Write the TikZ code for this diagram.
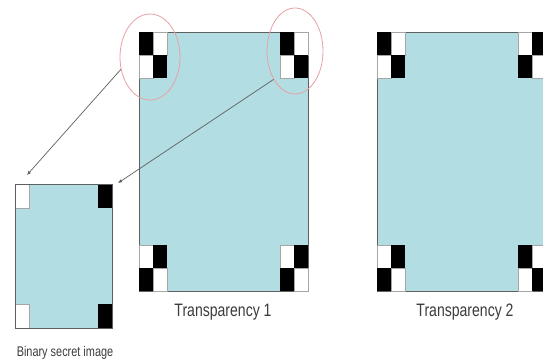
\documentclass[tikz,border=0pt]{standalone}
\usepackage{fontspec}
\setmainfont{Liberation Sans}
\usetikzlibrary{shapes.geometric,arrows.meta}
\definecolor{tfill}{RGB}{178,221,226}
\definecolor{edgegray}{RGB}{95,95,95}
\definecolor{ringred}{RGB}{232,160,165}
\definecolor{txtgray}{RGB}{60,60,60}
\newcommand\bcell[2]{\fill[black] (#1,#2) rectangle ++(14,23);}
\newcommand\wcell[2]{\filldraw[fill=white,draw=gray!70,line width=0.4pt] (#1,#2) rectangle ++(14,23);}
\tikzset{
  tbox/.style={draw=edgegray, fill=tfill, line width=0.7pt, inner sep=0pt, anchor=north west},
  ring/.style={draw=ringred, ellipse, line width=0.8pt, inner sep=0pt},
  conn/.style={draw=edgegray, line width=0.7pt, -{Latex[length=4pt,width=3.5pt]}},
  lbl/.style={text=txtgray, inner sep=0pt}
}
\begin{document}
\begin{tikzpicture}[x=1pt,y=-1pt]
\clip (0,0) rectangle (543,363);
\fill[white] (0,0) rectangle (543,363);
% transparency 1
\node[tbox, minimum width=169pt, minimum height=259pt] (t1) at (139,32) {};
% transparency 2
\node[tbox, minimum width=169pt, minimum height=259pt] (t2) at (377,32) {};
% binary secret image
\node[tbox, minimum width=97pt, minimum height=144pt] (sec) at (15,184) {};
% T1 corner blocks
\bcell{139}{32}\wcell{153}{32}\wcell{139}{55}\bcell{153}{55}
\bcell{280}{32}\wcell{294}{32}\wcell{280}{55}\bcell{294}{55}
\wcell{139}{245}\bcell{153}{245}\bcell{139}{268}\wcell{153}{268}
\wcell{280}{245}\bcell{294}{245}\bcell{280}{268}\wcell{294}{268}
% T2 corner blocks
\bcell{377}{32}\wcell{391}{32}\wcell{377}{55}\bcell{391}{55}
\wcell{518}{32}\bcell{532}{32}\bcell{518}{55}\wcell{532}{55}
\wcell{377}{245}\bcell{391}{245}\bcell{377}{268}\wcell{391}{268}
\bcell{518}{245}\wcell{532}{245}\wcell{518}{268}\bcell{532}{268}
% secret image corners
\filldraw[fill=white,draw=gray!70,line width=0.4pt] (15,184) rectangle (29,208);
\fill[black] (98,184) rectangle (112,208);
\filldraw[fill=white,draw=gray!70,line width=0.4pt] (15,304) rectangle (29,328);
\fill[black] (98,304) rectangle (112,328);
\draw[edgegray,line width=0.7pt] (sec.north west) rectangle (sec.south east);
% rings
\node[ring, minimum width=60pt, minimum height=86pt] (r1) at (150,57) {};
\node[ring, minimum width=56pt, minimum height=86pt] (r2) at (295,51) {};
% arrow targets
\coordinate (a1) at (27,175);
\coordinate (a2) at (118,183);
\draw[conn] (r1.203) -- (a1);
\draw[conn] (r2.233) -- (a2);
% labels
\node[lbl] (l1) at (223,312) {\scalebox{0.78}[1]{\fontsize{18}{20}\selectfont Transparency 1}};
\node[lbl] (l2) at (465,312) {\scalebox{0.78}[1]{\fontsize{18}{20}\selectfont Transparency 2}};
\node[lbl] (l3) at (65,353) {\scalebox{0.78}[1]{\fontsize{14}{16}\selectfont Binary secret image}};
\end{tikzpicture}
\end{document}
